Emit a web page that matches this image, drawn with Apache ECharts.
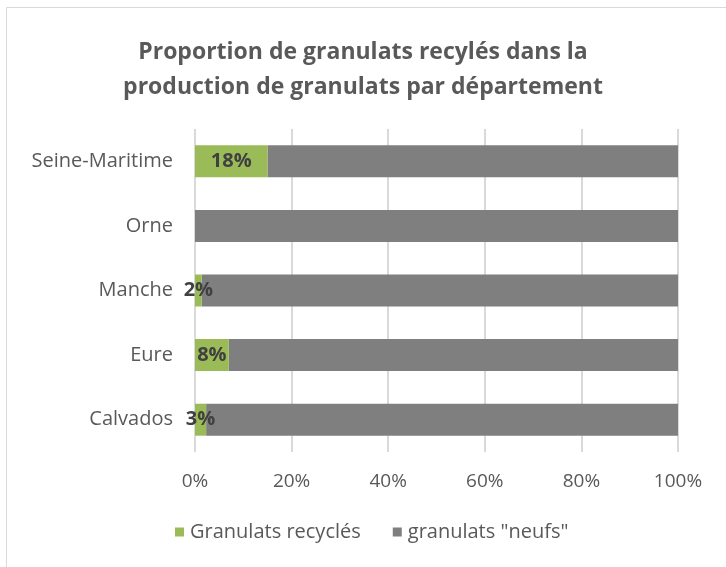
<!DOCTYPE html>
<html>
<head>
<meta charset="utf-8">
<script src="https://cdn.jsdelivr.net/npm/echarts@6/dist/echarts.min.js"></script>
<style>
    html, body { margin: 0; padding: 0; background: #fff; }
    #chart { width: 726px; height: 567px; }
</style>
</head>
<body>
<div id="chart"></div>
<script>
// Data
// ------------------------------

var departements = ['Calvados', 'Eure', 'Manche', 'Orne', 'Seine-Maritime'];
var recycles = [2.3, 7.0, 1.4, 0, 15.0];
var recyclesLabels = ['3%', '8%', '2%', '', '18%'];
var neufs = [97.7, 93.0, 98.6, 100, 85.0];
var axisTicks = [0, 20, 40, 60, 80, 100];

var fontFamily = '"Open Sans", sans-serif';


// Chart
// ------------------------------

var chartElement = document.getElementById('chart');
var chart = echarts.init(chartElement);

chart.setOption({
    animation: false,
    color: ['#9BBB59', '#7F7F7F'],
    textStyle: {
        fontFamily: fontFamily
    },

    // Chart frame
    graphic: [{
        type: 'polyline',
        shape: { points: [[6.5, 567], [6.5, 7.5], [726, 7.5]] },
        style: { stroke: '#D9D9D9', lineWidth: 1, fill: null }
    }],

    title: {
        text: 'Proportion de granulats recylés dans la\nproduction de granulats par département',
        left: 'center',
        top: 30,
        textStyle: {
            fontFamily: fontFamily,
            fontSize: 23,
            fontWeight: 'bold',
            color: '#595959',
            lineHeight: 35
        }
    },

    legend: {
        bottom: 20,
        left: 170,
        itemWidth: 9,
        itemHeight: 9,
        itemGap: 32,
        icon: 'rect',
        textStyle: {
            fontFamily: fontFamily,
            fontSize: 20,
            color: '#595959',
            padding: [0, 0, 0, 1]
        },
        data: ['Granulats recyclés', 'granulats "neufs"']
    },

    grid: {
        left: 195,
        right: 48,
        top: 129,
        bottom: 115,
        containLabel: false
    },

    xAxis: {
        type: 'value',
        min: 0,
        max: 100,
        interval: 20,
        axisLine: { show: false },
        axisTick: { show: false },
        axisLabel: {
            fontFamily: fontFamily,
            fontSize: 19,
            color: '#595959',
            margin: 20,
            formatter: function(v) {
                return axisTicks.indexOf(v) >= 0 ? v + '%' : '';
            }
        },
        splitLine: {
            lineStyle: { color: '#D9D9D9', width: 2 }
        }
    },

    yAxis: {
        type: 'category',
        data: departements,
        axisLine: { show: false },
        axisTick: { show: false },
        axisLabel: {
            fontFamily: fontFamily,
            fontSize: 20,
            color: '#595959',
            margin: 22
        }
    },

    series: [
        {
            name: 'Granulats recyclés',
            type: 'bar',
            stack: 'total',
            barWidth: 32,
            data: recycles,
            label: {
                show: true,
                position: 'inside',
                fontFamily: fontFamily,
                fontSize: 20,
                fontWeight: 'bold',
                color: '#404040',
                formatter: function(p) {
                    return recyclesLabels[p.dataIndex];
                }
            },
            z: 3
        },
        {
            name: 'granulats "neufs"',
            type: 'bar',
            stack: 'total',
            barWidth: 32,
            data: neufs,
            z: 2
        }
    ]
});
</script>
</body>
</html>
